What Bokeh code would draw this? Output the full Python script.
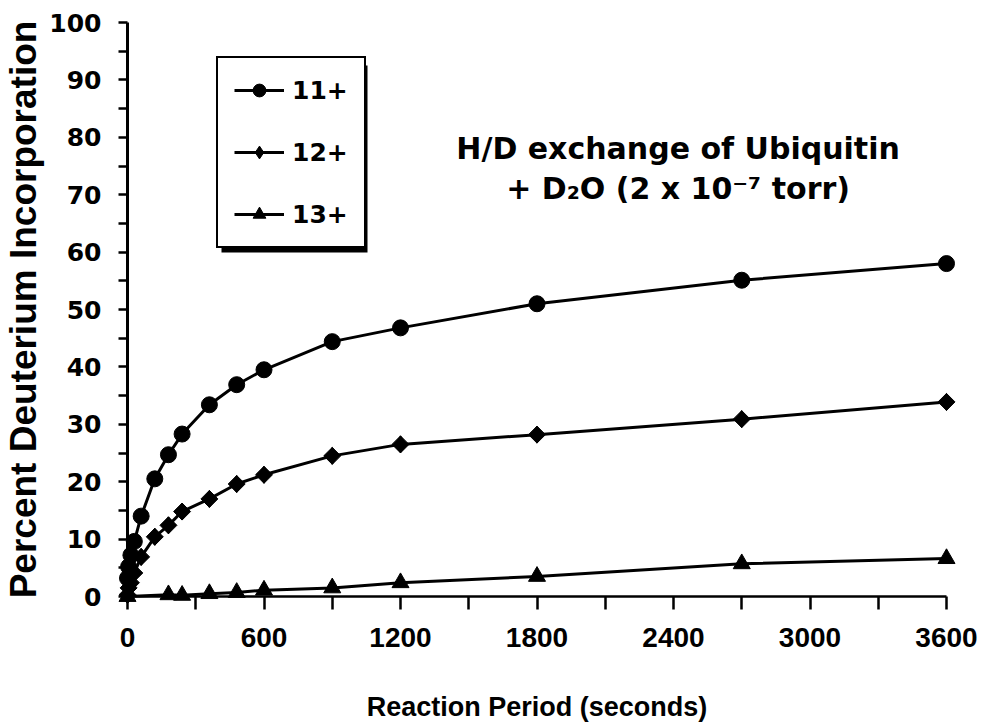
from bokeh.plotting import figure
from bokeh.models import FixedTicker, Range1d, Label, BoxAnnotation
from bokeh.embed import file_html
from bokeh.resources import INLINE

# ---- data ----
time_s = [0, 5, 15, 30, 60, 120, 180, 240, 360, 480, 600, 900, 1200, 1800, 2700, 3600]
pct_11 = [3.2, 5.2, 7.2, 9.6, 14.0, 20.5, 24.7, 28.3, 33.4, 36.9, 39.5, 44.4, 46.8, 51.0, 55.1, 58.0]
pct_12 = [0.3, 1.5, 2.4, 4.1, 6.9, 10.4, 12.4, 14.8, 17.0, 19.6, 21.2, 24.5, 26.5, 28.2, 30.9, 33.9]
time_13 = [0, 180, 240, 360, 480, 600, 900, 1200, 1800, 2700, 3600]
pct_13 = [0.0, 0.3, 0.2, 0.5, 0.7, 1.1, 1.5, 2.4, 3.5, 5.7, 6.6]
series_labels = ["11+", "12+", "13+"]

x_major = [0, 600, 1200, 1800, 2400, 3000, 3600]
x_minor = [300, 900, 1500, 2100, 2700, 3300]
y_major = [0, 10, 20, 30, 40, 50, 60, 70, 80, 90, 100]
y_minor = [5, 15, 25, 35, 45, 55, 65, 75, 85, 95]

x_title = "Reaction Period (seconds)"
y_title = "Percent Deuterium Incorporation"
note_lines = ["H/D exchange of Ubiquitin", "+ D\u2082O (2 x 10\u207b\u2077 torr)"]

# ---- figure ----
p = figure(width=984, height=724,
           x_range=Range1d(0, 3600), y_range=Range1d(0, 100),
           output_backend="svg", toolbar_location=None,
           min_border_left=126, min_border_right=38,
           min_border_top=22, min_border_bottom=128)
p.outline_line_color = None
p.grid.visible = False
p.background_fill_color = "white"
p.border_fill_color = "white"

lw = 3
p.line(time_s, pct_11, line_color="black", line_width=lw, legend_label=series_labels[0], level="overlay")
p.scatter(time_s, pct_11, marker="circle", size=16, color="black", legend_label=series_labels[0], level="overlay")
p.line(time_s, pct_12, line_color="black", line_width=lw, legend_label=series_labels[1], level="overlay")
p.scatter(time_s, pct_12, marker="diamond", size=17, color="black", legend_label=series_labels[1], level="overlay")
p.scatter(time_s, pct_12, marker="square", angle=0.785398, size=12, color="black", level="overlay")
p.line(time_13, pct_13, line_color="black", line_width=lw, legend_label=series_labels[2], level="overlay")
p.scatter(time_13, pct_13, marker="triangle", size=17, color="black", legend_label=series_labels[2], level="overlay")

# ---- axes ----
xa = p.xaxis[0]
xa.ticker = FixedTicker(ticks=x_major, minor_ticks=x_minor)
xa.axis_line_width = 2.5
xa.major_tick_line_width = 2.5
xa.minor_tick_line_width = 2.5
xa.major_tick_in = 0
xa.major_tick_out = 13
xa.minor_tick_in = 0
xa.minor_tick_out = 13
xa.major_label_text_font = "Liberation Sans"
xa.major_label_text_font_style = "bold"
xa.major_label_text_font_size = "28px"
xa.major_label_text_color = "black"
xa.major_label_standoff = 18
xa.axis_label = x_title
xa.axis_label_text_font = "Liberation Sans"
xa.axis_label_text_font_style = "bold"
xa.axis_label_text_font_size = "27px"
xa.axis_label_text_color = "black"
xa.axis_label_standoff = 42

ya = p.yaxis[0]
ya.ticker = FixedTicker(ticks=y_major, minor_ticks=y_minor)
ya.axis_line_width = 3
ya.major_tick_line_width = 2.5
ya.minor_tick_line_width = 2.5
ya.major_tick_in = 0
ya.major_tick_out = 9
ya.minor_tick_in = 0
ya.minor_tick_out = 9
ya.major_label_text_font = "DejaVu Sans"
ya.major_label_text_font_style = "bold"
ya.major_label_text_font_size = "25px"
ya.major_label_text_color = "black"
ya.major_label_standoff = 17
ya.axis_label = y_title
ya.axis_label_text_font = "Liberation Sans"
ya.axis_label_text_font_style = "bold"
ya.axis_label_text_font_size = "37px"
ya.axis_label_text_color = "black"
ya.axis_label_standoff = 2

# ---- legend (with drop shadow) ----
shadow = BoxAnnotation(left=94, right=240, bottom=344, top=531,
                       left_units="screen", right_units="screen",
                       bottom_units="screen", top_units="screen",
                       fill_color="black", fill_alpha=1, line_color=None,
                       level="underlay")
p.add_layout(shadow)

lg = p.legend[0]
lg.location = (89, 348)
lg.border_line_color = "black"
lg.border_line_alpha = 1
lg.border_line_width = 2.5
lg.background_fill_color = "white"
lg.background_fill_alpha = 1
lg.label_text_font = "DejaVu Sans"
lg.label_text_font_style = "bold"
lg.label_text_font_size = "25px"
lg.label_text_color = "black"
lg.glyph_width = 50
lg.glyph_height = 32
lg.label_height = 32
lg.spacing = 30
lg.padding = 16
lg.label_standoff = 8
lg.margin = 0

# ---- annotation ----
for i, txt in enumerate(note_lines):
    p.add_layout(Label(x=2420, y=78 - 7 * i, text=txt, text_align="center",
                       text_baseline="middle", text_font="DejaVu Sans",
                       text_font_style="bold", text_font_size="30px",
                       text_color="black"))

open("out.html", "w").write(file_html(p, INLINE))
